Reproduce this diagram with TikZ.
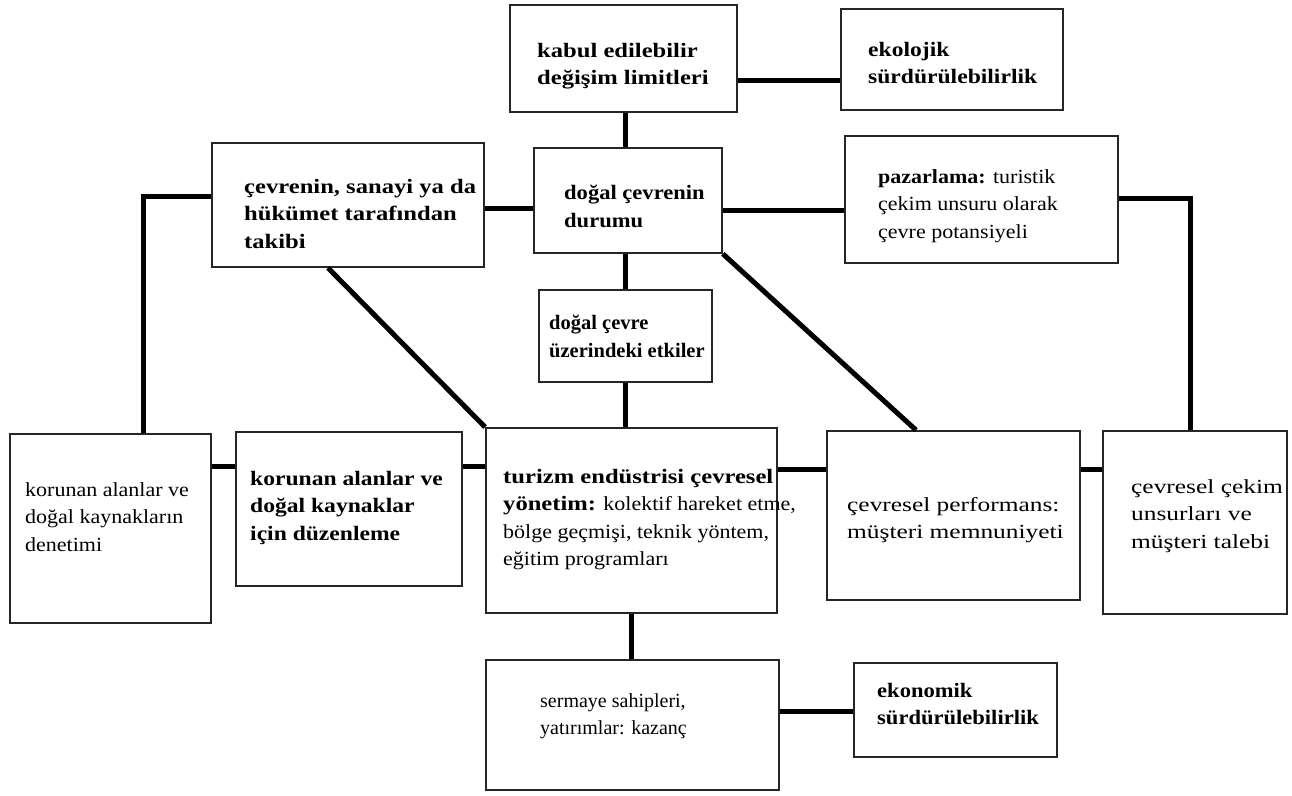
\documentclass[tikz,border=0pt]{standalone}
\usepackage{fontspec}
\setmainfont{Liberation Serif}
\newfontfamily\fA[FakeStretch=1.2]{Liberation Serif}
\newfontfamily\fB[FakeStretch=1.15]{Liberation Serif}
\newfontfamily\fC[FakeStretch=1.1]{Liberation Serif}
\newfontfamily\fF[FakeStretch=1.27]{Liberation Serif}
\newcommand{\bsz}{\fontsize{20.5}{27.5}\selectfont\bfseries}
\newcommand{\rsz}{\fontsize{20}{27.5}\selectfont}
\tikzset{
  box/.style={draw=black!85, line width=1.8pt, inner sep=0pt},
  conn/.style={line width=5pt},
  txt/.style={anchor=north west, inner sep=0pt, align=left},
}
\begin{document}
\begin{tikzpicture}[x=1pt,y=-1pt]
\useasboundingbox (0,0) rectangle (1292,795);
% boxes
\node[box, minimum width=227pt, minimum height=107pt] (b1) at (623.5,58.5) {};
\node[box, minimum width=222pt, minimum height=101pt] (b2) at (952,59.5) {};
\node[box, minimum width=272pt, minimum height=124pt] (b3) at (348,205) {};
\node[box, minimum width=188pt, minimum height=105pt] (b4) at (628,200.5) {};
\node[box, minimum width=273pt, minimum height=127pt] (b5) at (981.5,199.5) {};
\node[box, minimum width=173pt, minimum height=92pt] (b6) at (625.5,336) {};
\node[box, minimum width=201pt, minimum height=189pt] (b7) at (110.5,528.5) {};
\node[box, minimum width=226pt, minimum height=154pt] (b8) at (349,509) {};
\node[box, minimum width=291pt, minimum height=185pt] (b9) at (631.5,520.5) {};
\node[box, minimum width=253pt, minimum height=169pt] (b10) at (953.5,515.5) {};
\node[box, minimum width=184pt, minimum height=183pt] (b11) at (1195,522.5) {};
\node[box, minimum width=293pt, minimum height=130pt] (b12) at (632.5,725) {};
\node[box, minimum width=203pt, minimum height=94pt] (b13) at (955.5,710) {};
% texts
\node[txt, font=\fA\bsz] (t1) at (537,43) {kabul edilebilir\\değişim limitleri};
\node[txt, font=\fB\bsz] (t2) at (868,42) {ekolojik\\sürdürülebilirlik};
\node[txt, font=\fA\bsz] (t3) at (244,179) {çevrenin, sanayi ya da\\hükümet tarafından\\takibi};
\node[txt, font=\fC\bsz] (t4) at (564,185) {doğal çevrenin\\durumu};
\node[txt, font=\fC\rsz] (t5) at (878,169) {{\bfseries pazarlama:} turistik\\çekim unsuru olarak\\çevre potansiyeli};
\node[txt, font=\rmfamily\bsz] (t6) at (549,315) {doğal çevre\\üzerindeki etkiler};
\node[txt, font=\fC\rsz] (t7) at (25,482) {korunan alanlar ve\\doğal kaynakların\\denetimi};
\node[txt, font=\fB\bsz] (t8) at (250,471) {korunan alanlar ve\\doğal kaynaklar\\için düzenleme};
\node[txt, font=\fC\rsz] (t9) at (503,469) {{\fA\bsz turizm endüstrisi çevresel}\\{\fA\bsz yönetim:} kolektif hareket etme,\\bölge geçmişi, teknik yöntem,\\eğitim programları};
\node[txt, font=\fF\rsz] (t10) at (847,497) {çevresel performans:\\müşteri memnuniyeti};
\node[txt, font=\fF\rsz] (t11) at (1131,479) {çevresel çekim\\unsurları ve\\müşteri talebi};
\node[txt, font=\rmfamily\rsz] (t12) at (540,693) {sermaye sahipleri,\\yatırımlar: kazanç};
\node[txt, font=\fC\bsz] (t13) at (877,683) {ekonomik\\sürdürülebilirlik};
% helper levels
\coordinate (y80) at (0,80);
\coordinate (y208) at (0,208);
\coordinate (y210) at (0,210);
\coordinate (y196) at (0,196);
\coordinate (y198) at (0,198);
\coordinate (y466) at (0,466);
\coordinate (y469) at (0,469);
\coordinate (y711) at (0,711);
\coordinate (x625) at (625,0);
\coordinate (x143) at (143,0);
\coordinate (x1190) at (1190,0);
\coordinate (x328) at (328,0);
\coordinate (x916) at (916,0);
% connectors
\draw[conn] (b1.east |- y80) -- (b2.west |- y80);
\draw[conn] (b1.south -| x625) -- (b4.north -| x625);
\draw[conn] (b4.south -| x625) -- (b6.north -| x625);
\draw[conn] (b6.south) -- (b6.south |- b9.north);
\draw[conn] (b3.east |- y208) -- (b4.west |- y208);
\draw[conn] (b4.east |- y210) -- (b5.west |- y210);
\draw[conn] (b3.west |- y196) -| (b7.north -| x143);
\draw[conn] (b5.east |- y198) -| (b11.north -| x1190);
\draw[conn] (b3.south -| x328) -- (b9.north west);
\draw[conn] (b4.south east) -- (b10.north -| x916);
\draw[conn] (b7.east |- y466) -- (b8.west |- y466);
\draw[conn] (b8.east |- y466) -- (b9.west |- y466);
\draw[conn] (b9.east |- y469) -- (b10.west |- y469);
\draw[conn] (b10.east |- y469) -- (b11.west |- y469);
\draw[conn] (b9.south) -- (b9.south |- b12.north);
\draw[conn] (b12.east |- y711) -- (b13.west |- y711);
\end{tikzpicture}
\end{document}
